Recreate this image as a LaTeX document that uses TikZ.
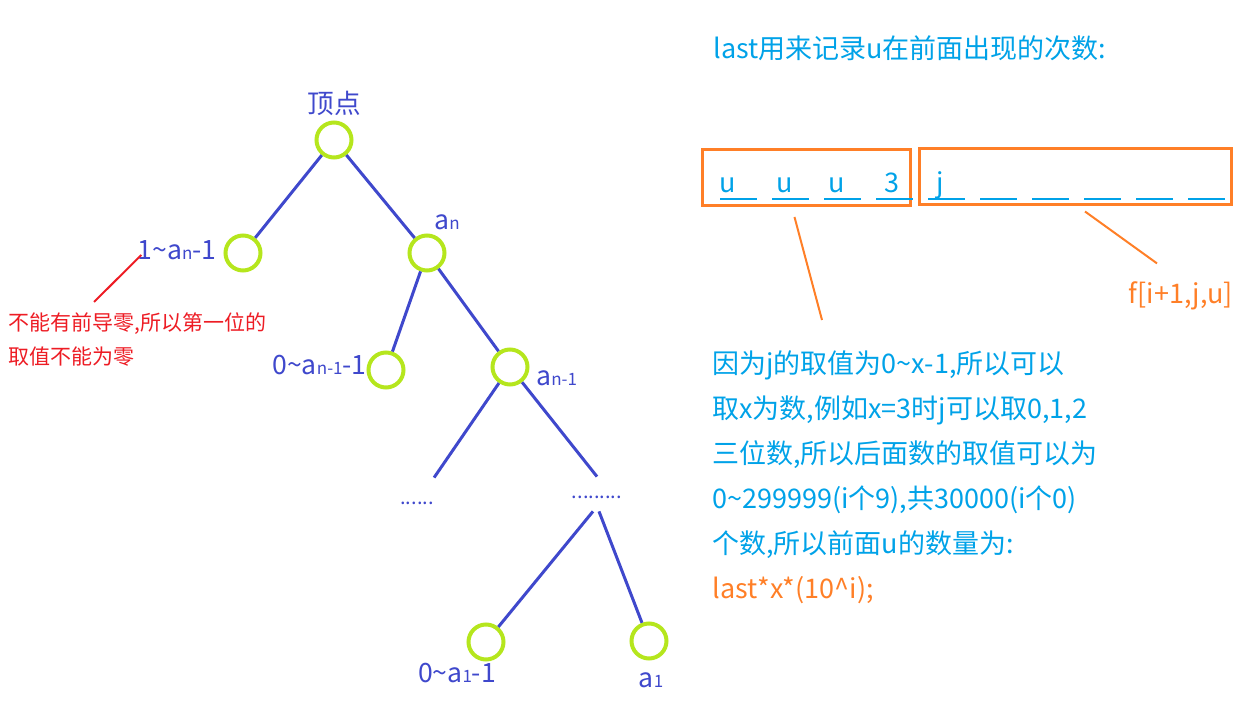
\documentclass[tikz,border=0pt]{standalone}
\usepackage{fontspec}
\setmainfont{Noto Sans CJK SC}
\usepackage{tikz}
\usetikzlibrary{positioning}

\definecolor{treeBlue}{HTML}{3F48CC}
\definecolor{limeGreen}{HTML}{B5E61D}
\definecolor{noteRed}{HTML}{ED1C24}
\definecolor{infoCyan}{HTML}{00A2E8}
\definecolor{boxOrange}{HTML}{FF7F27}

\newcommand{\lo}[1]{{\fontsize{8.5}{8.5}\selectfont #1}}
\newcommand{\tld}{\textasciitilde}

\begin{document}
\begin{tikzpicture}[x=0.5pt, y=-0.5pt,
    vertex/.style={draw=limeGreen, line width=2pt, circle, minimum size=17.5pt, inner sep=0pt},
    edge/.style={draw=treeBlue, line width=1.5pt},
    treetext/.style={text=treeBlue, font=\fontsize{13.3}{13.3}\selectfont, inner sep=1pt},
    dots/.style={text=treeBlue, font=\fontsize{10}{10}\selectfont, inner sep=0pt},
    note/.style={text=noteRed, font=\fontsize{10.5}{17}\selectfont, align=left, inner sep=0pt},
    info/.style={text=infoCyan, font=\fontsize{13.5}{22.5}\selectfont, align=left, inner sep=0pt},
    digitbox/.style={draw=boxOrange, line width=1.5pt, rectangle, inner sep=0pt, minimum height=28pt},
    slot/.style={draw=infoCyan, line width=1pt},
    leader/.style={draw=boxOrange, line width=1pt},
    noteline/.style={draw=noteRed, line width=1pt}
]

\useasboundingbox (0,0) rectangle (1250,715);

\node[vertex] (root) at (334,140) {};
\node[treetext, above=1pt of root] (rootLabel) {顶点};
\node[vertex] (leftChild) at (243,253) {};
\node[vertex] (rightChild) at (427,253) {};
\node[vertex] (lowLeft) at (386,370) {};
\node[vertex] (secondLevel) at (510,367) {};
\node[vertex] (leafLeft) at (486,642) {};
\node[vertex] (leafRight) at (649,641) {};

\node[treetext, anchor=east] (leftLabel) at (219,250) {1\tld a\lo{n}-1};
\node[treetext] (anLabel) at (447,222) {a\lo{n}};
\node[treetext, anchor=east] (lowLabel) at (369,365) {0\tld a\lo{n-1}-1};
\node[treetext, anchor=west] (secondLabel) at (534,378) {a\lo{n-1}};
\node[dots, minimum height=25pt] (dotsLeft) at (417,503) {......};
\node[dots, minimum height=20pt] (dotsRight) at (597,497) {.........};
\node[treetext] (leafLeftLabel) at (457,673) {0\tld a\lo{1}-1};
\node[treetext] (leafRightLabel) at (651,680) {a\lo{1}};

\draw[edge] (root) -- (leftChild);
\draw[edge] (root) -- (rightChild);
\draw[edge] (rightChild) -- (lowLeft);
\draw[edge] (rightChild) -- (secondLevel);
\draw[edge] (secondLevel) -- (dotsLeft.north east);
\draw[edge] (secondLevel) -- (dotsRight.north);
\draw[edge] ([xshift=-2pt, yshift=3pt]dotsRight.south) -- (leafLeft);
\draw[edge] ([xshift=1pt, yshift=3pt]dotsRight.south) -- (leafRight);

\node[note, anchor=north west] (note) at (8,312) {不能有前导零,所以第一位的\\取值不能为零};
\draw[noteline] ([xshift=43pt, yshift=5pt]note.north west) -- ([xshift=3pt, yshift=-2.5pt]leftLabel.west);

\node[info, anchor=west] (title) at (713,48) {last用来记录u在前面出现的次数:};

\node[digitbox, minimum width=104pt] (boxLast) at (806.5,177.5) {};
\node[digitbox, minimum width=156pt] (boxRest) at (1075.5,177) {};
\foreach \x in {720,772,824,876,928,980,1032,1084,1136,1188}
    \draw[slot] (\x,199) -- ++(37,0);
\foreach \x/\t in {728/u,785/u,837/u,892/3,940/j}
    \node[info, anchor=base] (cell\x) at (\x,193) {\t};

\node[info, anchor=north west] (reason) at (712,350) {因为j的取值为0\tld x-1,所以可以\\
取x为数,例如x=3时j可以取0,1,2\\
三位数,所以后面数的取值可以为\\
0\tld 299999(i个9),共30000(i个0)\\
个数,所以前面u的数量为:\\
\textcolor{boxOrange}{last*x*(10\textasciicircum i);}};
\node[info, text=boxOrange] (fLabel) at (1181,296) {f[i+1,j,u]};

\draw[leader] ([xshift=-6pt, yshift=-5pt]boxLast.south) -- ([xshift=55pt, yshift=15pt]reason.north west);
\draw[leader] ([xshift=4.75pt, yshift=-2.5pt]boxRest.south) -- ([xshift=-12pt, yshift=9pt]fLabel.north);

\end{tikzpicture}
\end{document}
